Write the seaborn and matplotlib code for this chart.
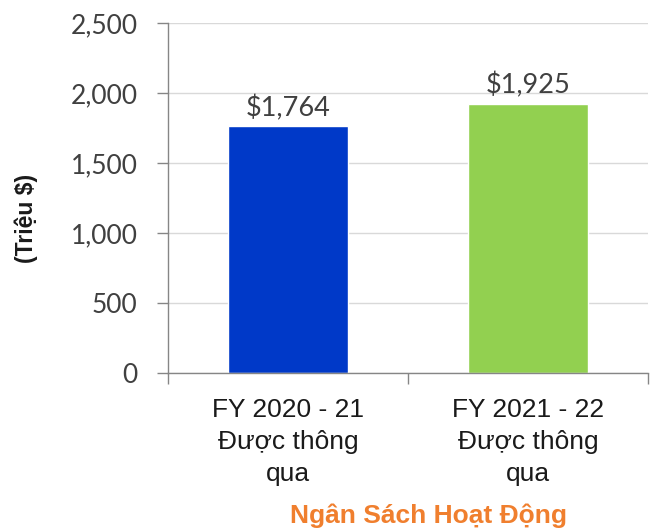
"""
Operating budget bar chart (Ngân Sách Hoạt Động)
"""

import matplotlib
matplotlib.use("Agg")
import matplotlib.pyplot as plt
import seaborn as sns

# Data
categories = ["FY 2020 - 21\nĐược thông\nqua", "FY 2021 - 22\nĐược thông\nqua"]
values = [1764, 1925]
value_labels = ["$1,764", "$1,925"]
bar_colors = ["#0039C8", "#92D050"]
y_ticks = [0, 500, 1000, 1500, 2000, 2500]
y_tick_labels = ["0", "500", "1,000", "1,500", "2,000", "2,500"]

sns.set_style("white")
plt.rcParams['font.family'] = ['Liberation Sans', 'DejaVu Sans']

fig = plt.figure(figsize=(6.52, 5.31), dpi=100)
ax = fig.add_axes([168 / 652, 1 - 373 / 531, 480 / 652, 350 / 531])

sns.barplot(x=categories, y=values, hue=categories, palette=bar_colors,
            width=0.5, legend=False, ax=ax, saturation=1)

ax.set_xlim(-0.5, 1.5)
ax.set_ylim(0, 2500)
ax.set_yticks(y_ticks)
ax.set_yticklabels(y_tick_labels, family=['Lato', 'DejaVu Sans'],
                   fontsize=19, color='#404040')
ax.yaxis.grid(True, color='#d9d9d9', linewidth=1)
ax.set_axisbelow(True)

# category separators on x axis
ax.set_xticks([0, 1])
ax.set_xticklabels(categories, linespacing=1.42)
ax.set_xticks([-0.5, 0.5, 1.5], minor=True)
ax.tick_params(axis='x', which='minor', bottom=True, length=8, color='#868686',
               width=1, direction='out')
ax.tick_params(axis='x', which='major', bottom=False, length=0, labelsize=19,
               pad=18, colors='#1a1a1a')
ax.tick_params(axis='y', left=True, length=8, color='#868686', width=1,
               direction='out', pad=14)

for s in ['top', 'right']:
    ax.spines[s].set_visible(False)
for s in ['left', 'bottom']:
    ax.spines[s].set_color('#868686')
    ax.spines[s].set_linewidth(1)

# value labels
for i, (v, lab) in enumerate(zip(values, value_labels)):
    ax.text(i, v + 35, lab, ha='center', va='bottom', fontsize=19.5,
            color='#404040', family=['Lato', 'DejaVu Sans'])

ax.set_ylabel('(Triệu $)', fontsize=16.5, fontweight='bold', color='#1a1a1a')
ax.yaxis.set_label_coords(-0.271, 0.443)
ax.set_xlabel('')

fig.text(428 / 652, 1 - 516 / 531, 'Ngân Sách Hoạt Động', ha='center', va='center',
         fontsize=19, fontweight='bold', color='#F07F2E')

plt.savefig('out.png', dpi=100)
plt.close()
